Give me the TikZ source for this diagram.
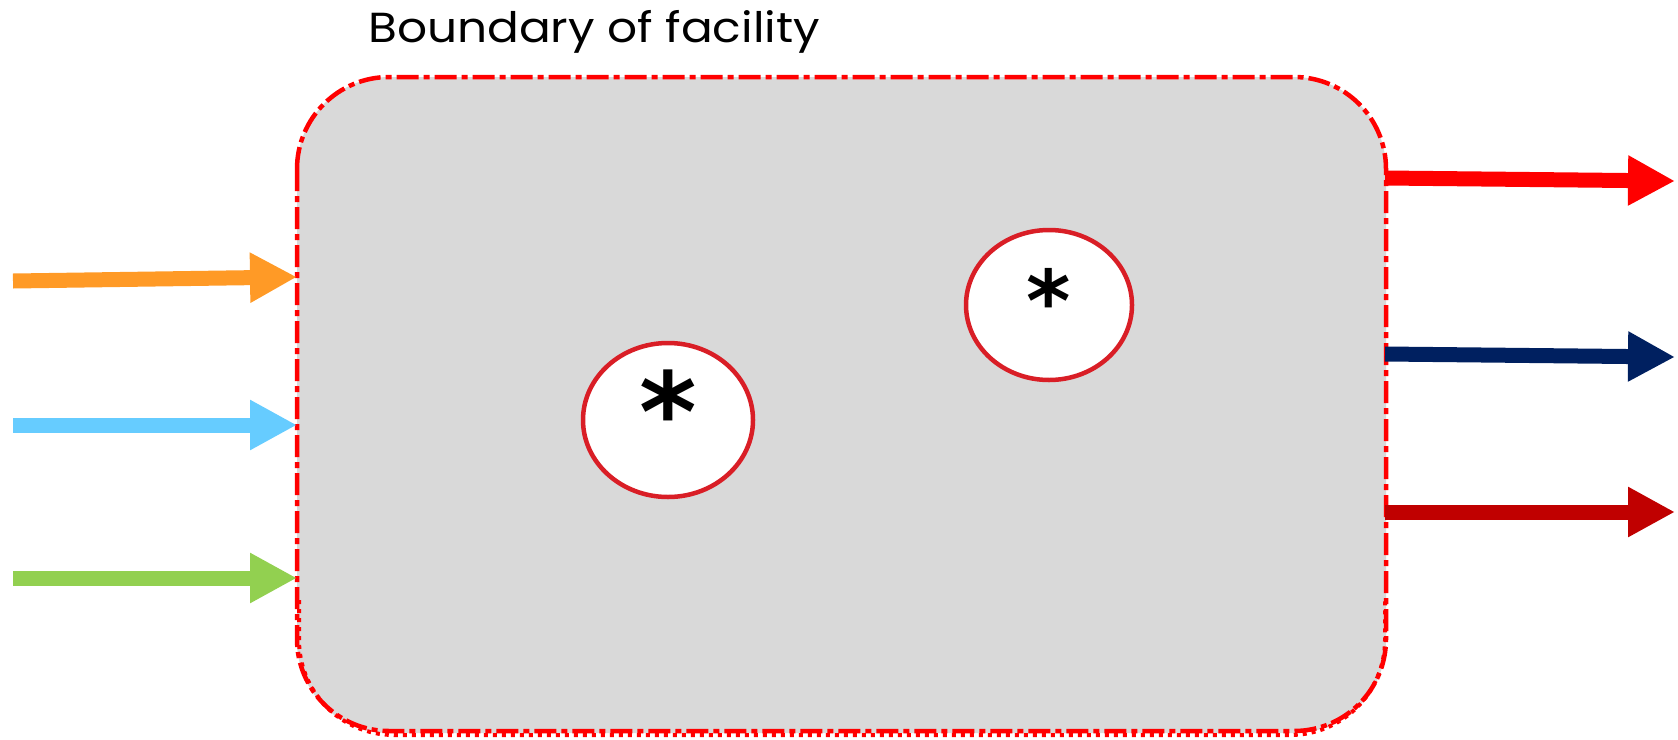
\documentclass[tikz,border=0pt]{standalone}
\usepackage{fontspec}
\setmainfont{Poppins}
\newfontfamily\titlefont[FakeStretch=1.12]{Poppins}
\newfontfamily\starfont{DejaVu Sans}
\usetikzlibrary{arrows.meta,shapes.geometric}
\definecolor{boxgray}{HTML}{D9D9D9}
\definecolor{bordred}{HTML}{FF0000}
\definecolor{ellred}{HTML}{D91E26}
\definecolor{inorange}{HTML}{FF9A26}
\definecolor{inblue}{HTML}{66CCFF}
\definecolor{ingreen}{HTML}{92D050}
\definecolor{outred}{HTML}{FF0000}
\definecolor{outnavy}{HTML}{002060}
\definecolor{outdark}{HTML}{C00000}
\tikzset{
  flow/.style={line width=15pt, -{Triangle[length=47pt,width=47pt]}},
  pocket/.style={ellipse, draw=ellred, line width=4.5pt, fill=white, inner sep=0pt},
  facility/.style={rounded corners=92pt, fill=boxgray, inner sep=0pt}
}
\begin{document}
\begin{tikzpicture}[x=1pt,y=-1pt]
\useasboundingbox (0,0) rectangle (1678,739);
% facility box
\node[facility, minimum width=1089pt, minimum height=656pt] (box) at (841.5,405) {};
\draw[bordred, line width=4.5pt, rounded corners=92pt, dash pattern=on 22pt off 5pt on 6pt off 5pt] (297,77) rectangle (1386,731);
\draw[bordred, line width=4pt, rounded corners=95pt, dash pattern=on 4pt off 5pt] (299,600) |- (1385,735) -- (1385,600);
% title
\node[anchor=west, font=\titlefont\fontsize{42}{44}\selectfont, inner sep=0pt] (title) at (368,32) {Boundary of facility};
% pockets
\node[pocket, minimum width=170pt, minimum height=154pt] (p1) at (668,420) {};
\node[pocket, minimum width=166pt, minimum height=150pt] (p2) at (1049,305) {};
\node[font=\starfont\bfseries\fontsize{110}{110}\selectfont, inner sep=0pt] (s1) at ([yshift=9pt]p1.center) {*};
\node[font=\starfont\bfseries\fontsize{85}{85}\selectfont, inner sep=0pt] (s2) at ([yshift=5.5pt]p2.center) {*};
% inputs
\coordinate (i1) at (13,281);
\coordinate (i1e) at (297,277);
\coordinate (i2) at (13,425);
\coordinate (i2e) at (297,425);
\coordinate (i3) at (13,578);
\coordinate (i3e) at (297,578);
\draw[flow, inorange] (i1) -- (i1e);
\draw[flow, inblue] (i2) -- (i2e);
\draw[flow, ingreen] (i3) -- (i3e);
% outputs
\coordinate (o1s) at (1385,178);
\coordinate (o1) at (1675,181);
\coordinate (o2s) at (1385,354);
\coordinate (o2) at (1675,357);
\coordinate (o3s) at (1385,512);
\coordinate (o3) at (1675,512);
\draw[flow, outred] (o1s) -- (o1);
\draw[flow, outnavy] (o2s) -- (o2);
\draw[flow, outdark] (o3s) -- (o3);
\end{tikzpicture}
\end{document}
